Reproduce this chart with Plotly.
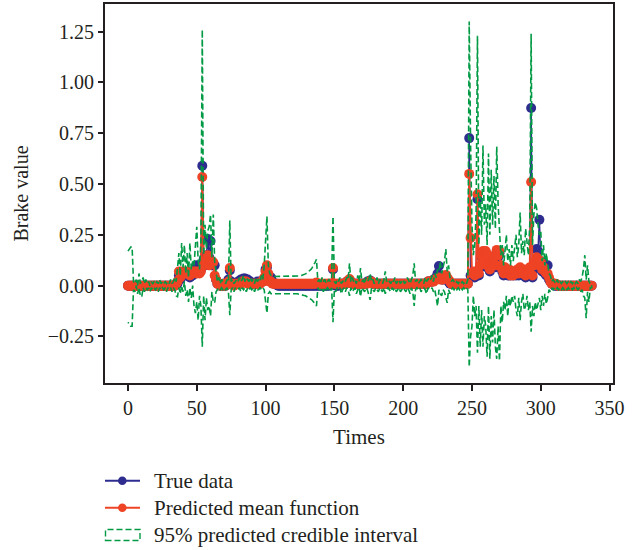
import plotly.graph_objects as go

times = list(range(338))

true_data = [
    0, 0, 0, 0, 0, 0, 0, 0, 0, 0,
    0, 0, 0, 0, 0, 0, 0, 0, 0, 0,
    0, 0, 0, 0, 0, 0, 0, 0, 0, 0,
    0, 0, 0, 0, 0, .01, .01, .05, .03, .06,
    .05, .06, .05, .06, .05, .04, .06, .05, .06, .07,
    .10, .08, .07, .08, .59, .13, .10, .15, .23, .14,
    .22, .10, .10, .10, .03, .01, .01, 0, 0, .01,
    0, 0, .01, .03, .075, .02, .01, .01, .01, .01,
    .02, .02, .03, .03, .035, .035, .03, .03, .02, .02,
    .01, .01, .01, .01, .02, .01, .02, .02, .02, .03,
    .08, .09, .05, .03, .04, .02, .01, .01, .01, 0,
    0, 0, 0, 0, 0, 0, 0, 0, 0, 0,
    0, 0, 0, 0, 0, 0, 0, 0, 0, 0,
    0, 0, 0, 0, 0, 0, 0, 0, 0, 0,
    0, 0, 0, 0, 0, 0, 0, .01, .01, .08,
    .01, 0, 0, 0, .01, .01, .01, .01, .01, .02,
    .02, .02, .02, .01, .01, .01, .01, .01, .01, .01,
    .01, .01, .01, .01, .02, .02, .025, .02, .01, .01,
    .01, .01, .01, .01, .01, .01, .01, .01, .01, .01,
    .01, .01, .01, .01, .01, .01, .01, .01, .01, .01,
    .01, .01, .01, .01, .01, .01, .01, .01, .01, .01,
    .01, .01, .01, .01, .01, .01, .01, .01, .02, .02,
    .02, .02, .03, .03, .04, .06, .097, .05, .03, .03,
    .03, .04, .03, .02, .01, .01, .01, .01, .01, .01,
    .01, .01, .01, .01, .01, .01, .01, .01, .726, .05,
    .05, .06, .04, .06, .425, .05, .09, .14, .16, .11,
    .16, .09, .14, .07, .10, .11, .13, .09, .17, .14,
    .16, .09, .07, .05, .08, .06, .05, .07, .05, .06,
    .05, .06, .05, .07, .05, .08, .06, .05, .07, .04,
    .06, .05, .08, .874, .04, .08, .10, .18, .17, .324,
    .12, .07, .11, .06, .05, .10, .03, .02, .01, .01,
    0, 0, 0, 0, 0, 0, 0, 0, 0, 0,
    0, 0, 0, 0, 0, 0, 0, 0, 0, 0,
    0, 0, 0, 0, 0, 0, 0, 0,
]

predicted_mean = [
    0, 0, 0, 0, 0, 0, 0, 0, 0, 0,
    0, 0, 0, 0, 0, 0, 0, 0, 0, 0,
    0, 0, 0, 0, 0, 0, 0, 0, 0, 0,
    0, 0, 0, 0, 0, .01, .02, .07, .04, .07,
    .06, .07, .06, .07, .06, .05, .07, .06, .07, .07,
    .06, .07, .06, .07, .535, .10, .12, .13, .15, .10,
    .12, .12, .115, .05, .03, .01, .01, 0, 0, .01,
    0, 0, .01, .02, .087, .01, .01, 0, .01, .01,
    .01, .01, .01, .02, .02, .02, .02, .01, .01, .01,
    .01, .01, .01, .01, .01, .01, .01, .02, .02, .04,
    .07, .10, .06, .02, .02, .01, .01, .01, .01, .01,
    .01, .01, .01, .01, .01, .01, .01, .01, .01, .01,
    .01, .01, .01, .01, .01, .01, .01, .01, .01, .01,
    .01, .01, .01, .01, .01, .01, .01, .015, .01, .01,
    .01, .01, .01, .01, .01, .01, .01, .01, .01, .087,
    .01, .01, .01, .01, .01, .01, .01, .01, .01, .02,
    .02, .033, .02, .01, .01, .01, .01, .01, .01, .01,
    .01, .01, .01, .01, .01, .02, .02, .02, .01, .01,
    .01, .01, .01, .01, .01, .01, .01, .01, .01, .01,
    .01, .01, .01, .01, .01, .01, .01, .01, .01, .01,
    .01, .01, .01, .01, .01, .01, .01, .01, .01, .01,
    .01, .01, .01, .01, .01, .01, .01, .01, .02, .02,
    .02, .02, .02, .03, .03, .03, .04, .03, .03, .03,
    .04, .053, .04, .03, .02, .01, .01, .01, .01, .01,
    .01, .01, .01, .01, .01, .01, .01, .01, .55, .235,
    .06, .07, .05, .07, .45, .06, .10, .15, .17, .12,
    .17, .10, .15, .08, .11, .12, .14, .10, .176, .15,
    .17, .10, .08, .06, .09, .07, .06, .08, .05, .07,
    .05, .07, .06, .08, .06, .09, .07, .06, .08, .05,
    .07, .06, .09, .51, .05, .10, .12, .14, .13, .10,
    .12, .08, .09, .07, .06, .06, .04, .02, .01, .01,
    .01, .01, 0, 0, 0, 0, 0, 0, 0, 0,
    0, 0, 0, 0, 0, 0, 0, 0, 0, 0,
    0, 0, 0, 0, 0, 0, 0, 0,
]

upper_bound = [
    .17, .18, .19, .19, .02, .01, .03, .00, .06, .01,
    .02, .04, .01, .03, .01, .02, .00, .02, .01, .02,
    .01, .02, .01, .03, .01, .02, .01, .02, .01, .02,
    .01, .03, .01, .02, .04, .02, .08, .16, .05, .21,
    .09, .20, .06, .16, .04, .21, .08, .12, .10, .18,
    .29, .12, .08, .22, 1.26, .15, .30, .18, .27, .29,
    .35, .14, .35, .12, .06, .02, .04, .01, .03, .02,
    .02, .01, .03, .02, .32, .02, .03, .01, .02, .03,
    .02, .04, .02, .03, .05, .02, .04, .03, .02, .04,
    .02, .03, .01, .04, .02, .03, .02, .05, .03, .10,
    .20, .34, .10, .06, .05, .045, .045, .045, .045, .045,
    .045, .045, .045, .045, .045, .045, .045, .045, .045, .045,
    .045, .045, .045, .045, .046, .048, .05, .052, .055, .058,
    .062, .067, .073, .08, .09, .10, .115, .13, .02, .03,
    .01, .04, .02, .03, .01, .02, .03, .02, .04, .34,
    .02, .01, .03, .02, .04, .01, .02, .03, .02, .04,
    .03, .11, .02, .04, .02, .03, .01, .05, .02, .087,
    .02, .03, .01, .04, .02, .03, .06, .02, .03, .01,
    .02, .04, .01, .03, .02, .01, .03, .07, .02, .03,
    .02, .01, .03, .02, .04, .01, .02, .03, .01, .02,
    .03, .01, .02, .04, .02, .01, .03, .05, .11, .02,
    .03, .01, .02, .03, .02, .01, .04, .02, .03, .04,
    .03, .05, .02, .06, .04, .08, .07, .12, .06, .09,
    .12, .18, .07, .10, .04, .02, .03, .02, .01, .02,
    .01, .02, .01, .02, .01, .02, .01, .03, 1.30, .70,
    .30, .15, .20, .35, 1.23, .20, .44, .25, .69, .30,
    .40, .20, .65, .25, .57, .30, .54, .28, .685, .40,
    .30, .15, .20, .10, .17, .25, .12, .18, .10, .20,
    .12, .18, .25, .14, .20, .36, .16, .22, .15, .28,
    .20, .15, .30, 1.24, .20, .35, .41, .38, .30, .25,
    .27, .12, .20, .10, .16, .12, .06, .05, .02, .03,
    .02, .01, .03, .01, .02, .01, .02, .01, .02, .01,
    .02, .01, .02, .01, .02, .01, .02, .01, .03, .02,
    .04, .08, .15, .03, .10, .02, .01, .01,
]

lower_bound = [
    -.18, -.19, -.20, -.20, -.02, -.03, .00, -.04, -.01, -.05,
    -.055, -.01, -.03, -.01, -.02, -.01, -.03, -.01, -.02, -.01,
    -.02, -.01, -.03, -.01, -.02, -.01, -.02, -.01, -.03, -.01,
    -.02, -.01, -.03, -.01, -.02, -.05, -.054, -.01, -.04, .00,
    -.03, .02, -.05, -.02, -.08, -.01, -.06, .00, -.10, -.135,
    -.08, -.17, -.05, -.10, -.30, -.05, -.17, -.06, -.12, -.10,
    -.15, -.03, -.08, -.085, -.03, -.02, -.01, -.02, -.01, -.02,
    -.01, -.02, -.01, -.03, -.145, -.02, -.01, -.03, -.01, -.02,
    -.02, -.01, -.03, -.01, -.02, -.01, -.03, -.01, -.02, -.01,
    -.02, -.01, -.03, -.01, -.02, -.02, -.01, -.02, -.01, -.02,
    -.06, -.135, -.04, -.03, -.04, -.04, -.04, -.04, -.04, -.04,
    -.04, -.04, -.04, -.04, -.04, -.04, -.04, -.04, -.04, -.04,
    -.04, -.04, -.04, -.04, -.041, -.042, -.044, -.046, -.048, -.05,
    -.053, -.057, -.062, -.067, -.073, -.08, -.09, -.10, -.01, -.02,
    -.02, -.01, -.03, -.01, -.02, -.01, -.02, -.03, -.01, -.18,
    -.02, -.03, -.01, -.02, -.01, -.04, -.02, -.01, -.03, -.01,
    -.02, -.05, -.01, -.03, -.02, -.01, -.04, -.02, -.01, -.054,
    -.01, -.02, -.03, -.01, -.02, -.04, -.07, -.01, -.02, -.03,
    -.01, -.02, -.03, -.01, -.02, -.03, -.01, -.04, -.02, -.01,
    -.02, -.03, -.01, -.02, -.01, -.03, -.02, -.01, -.03, -.02,
    -.01, -.02, -.03, -.01, -.02, -.04, -.01, -.03, -.10, -.02,
    -.01, -.02, -.01, -.03, -.02, -.01, -.02, -.04, -.01, -.02,
    -.02, -.01, -.03, -.02, -.06, -.10, -.02, -.04, -.05, -.02,
    -.03, -.06, -.085, -.02, -.04, -.02, -.01, -.02, -.01, -.02,
    -.01, -.02, -.01, -.02, -.01, -.02, -.01, -.02, -.40, -.25,
    -.20, -.05, -.15, -.10, -.33, -.10, -.30, -.12, -.30, -.15,
    -.20, -.35, -.10, -.36, -.15, -.28, -.12, -.30, -.36, -.20,
    -.37, -.10, -.18, -.08, -.12, -.05, -.15, -.06, -.10, -.05,
    -.08, -.05, -.12, -.15, -.06, -.17, -.08, -.04, -.12, -.10,
    -.05, -.12, -.08, -.227, -.10, -.15, -.08, -.12, -.10, -.06,
    -.12, -.05, -.10, -.04, -.09, -.06, -.02, -.03, -.01, -.02,
    -.01, -.02, -.01, -.02, -.01, -.02, -.01, -.02, -.01, -.02,
    -.01, -.02, -.01, -.02, -.01, -.02, -.01, -.02, -.01, -.03,
    -.02, -.05, -.06, -.16, -.03, -.08, -.01, -.01,
]

x_ticks = [0, 50, 100, 150, 200, 250, 300, 350]
y_ticks = [-0.25, 0, 0.25, 0.5, 0.75, 1.0, 1.25]
legend_labels = ["True data", "Predicted mean function", "95% predicted credible interval"]

BLUE = "#2e2d8f"
RED = "#ee4324"
GREEN = "#009a44"
INK = "#231f20"
FONT = "Liberation Serif"

W, H = 639, 550
ML, MR, MT, MB = 105, 26, 4, 167
PW, PH = W - ML - MR, H - MT - MB


def px(xp):
    return (xp - ML) / PW


def py(yp):
    return (H - MB - yp) / PH


fig = go.Figure()
fig.add_trace(go.Scatter(
    x=times, y=true_data, mode="lines+markers", name=legend_labels[0],
    line=dict(color=BLUE, width=1.5), marker=dict(color=BLUE, size=10),
    showlegend=False,
))
fig.add_trace(go.Scatter(
    x=times, y=predicted_mean, mode="lines+markers", name=legend_labels[1],
    line=dict(color=RED, width=2), marker=dict(color=RED, size=10),
    showlegend=False,
))
fig.add_trace(go.Scatter(
    x=times + times[::-1], y=upper_bound + lower_bound[::-1],
    mode="lines", fill="toself", fillcolor="rgba(255,255,255,0)",
    name=legend_labels[2],
    line=dict(color=GREEN, width=1.6, dash="6px,3px"),
    showlegend=False,
))

# manual legend (line+marker, line+marker, dashed box)
rows = [480.7, 507.7, 535.0]
shapes = []
annotations = []
for color, yc in zip([BLUE, RED], rows[:2]):
    shapes.append(dict(type="line", xref="paper", yref="paper",
                       x0=px(105), x1=px(140), y0=py(yc), y1=py(yc),
                       line=dict(color=color, width=2)))
    shapes.append(dict(type="circle", xref="paper", yref="paper",
                       x0=px(118), x1=px(126.6), y0=py(yc + 4.3), y1=py(yc - 4.3),
                       fillcolor=color, line=dict(color=color, width=0)))
shapes.append(dict(type="rect", xref="paper", yref="paper",
                   x0=px(105.5), x1=px(140), y0=py(540.5), y1=py(529.5),
                   fillcolor="rgba(255,255,255,0)",
                   line=dict(color=GREEN, width=1.4, dash="6px,3px")))
for label, yc in zip(legend_labels, rows):
    annotations.append(dict(text=label, xref="paper", yref="paper",
                            x=px(152), y=py(yc), xanchor="left", yanchor="middle",
                            showarrow=False,
                            font=dict(family=FONT, size=21, color=INK)))

axis_common = dict(
    showline=True, linecolor=INK, linewidth=2, mirror=True,
    ticks="outside", tickcolor=INK, tickwidth=1.5,
    showgrid=False, zeroline=False, automargin=False,
    tickfont=dict(family=FONT, size=20, color=INK),
)
fig.update_xaxes(
    range=[-16.7, 352.5], tickvals=x_ticks, ticklen=6,
    title=dict(text="Times", font=dict(family=FONT, size=21, color=INK), standoff=11),
    **axis_common,
)
fig.update_yaxes(
    range=[-0.479, 1.386], tickvals=y_ticks, tickformat=".2f", ticklen=5,
    title=dict(text="Brake value", font=dict(family=FONT, size=20, color=INK), standoff=14),
    **axis_common,
)
fig.update_layout(
    width=W, height=H,
    margin=dict(l=ML, r=MR, t=MT, b=MB, autoexpand=False),
    plot_bgcolor="white", paper_bgcolor="white",
    font=dict(family=FONT, size=20, color=INK),
    showlegend=False,
    shapes=shapes, annotations=annotations,
)
fig.write_html(
    "out.html",
    config={"displayModeBar": False},
    post_script="document.body.style.margin='0px';document.body.style.overflow='hidden';",
)
